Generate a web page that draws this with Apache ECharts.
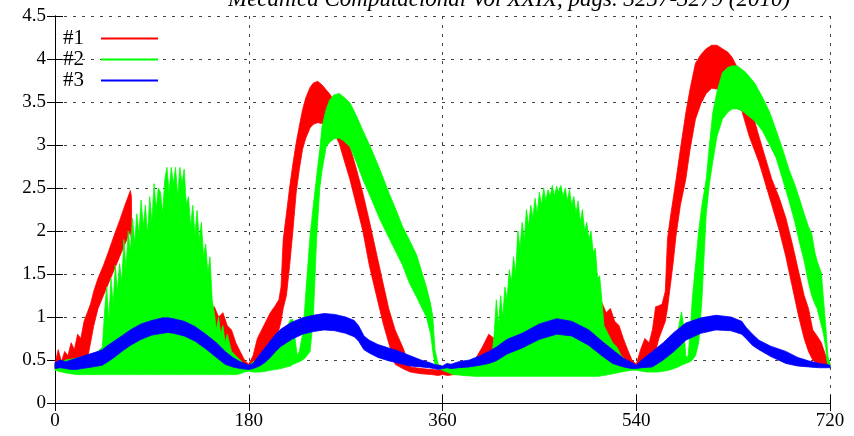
<!DOCTYPE html>
<html>
<head>
<meta charset="utf-8">
<script src="https://cdn.jsdelivr.net/npm/echarts@6/dist/echarts.min.js"></script>
<style>
html,body{margin:0;padding:0;background:#fff;}
#e_chart_1{width:854px;height:436px;}
</style>
</head>
<body>
<div id="e_chart_1"></div>
<script>
/*Crank angle chart*/

"use strict";

/*****Data start*****/
var titleText = 'Mecánica Computacional Vol XXIX, págs. 3257-3279 (2010)';
var seriesNames = ['#1', '#2', '#3'];
var seriesColors = ['#ff0000', '#00ff00', '#0000ff'];

// #1 : band (angle, lower edge, upper edge)
var redDeg = [0,3,6,9,12,15,18,21,24,27,30,33,36,40,45,50,55,60,65,70,71,72,80,100,120,135,140,145,148,152,156,160,164,168,172,176,
	180,184,188,192,196,200,204,208,210,212,215,218,221,224,227,230,233,237,240,244,248,252,256,260,264,268,274,280,286,292,299,305,310,316,323,330,340,350,356,
	360,365,370,380,390,397,403,408,420,460,490,500,505,508,512,516,520,524,528,532,536,
	540,544,548,552,555,558,561,564,567,569,571,574,577,581,586,590,595,600,605,610,615,620,625,629,638,645,654,666,673,679,685,691,696,700,704,708,712,716,720];
var redLow = [0.40,0.40,0.40,0.40,0.41,0.42,0.42,0.43,0.44,0.46,0.50,0.70,0.90,1.10,1.25,1.40,1.55,1.70,1.85,2.00,1.90,0.50,0.45,0.45,0.45,0.45,0.45,0.45,0.45,0.44,0.44,0.43,0.43,0.42,0.42,0.41,
	0.40,0.41,0.42,0.44,0.48,0.55,0.70,0.85,0.95,1.10,1.25,1.60,2.00,2.44,2.72,2.95,3.08,3.20,3.24,3.26,3.25,3.22,3.18,3.12,3.02,2.85,2.60,2.30,2.00,1.60,1.23,0.92,0.70,0.45,0.40,0.36,0.34,0.33,0.32,
	0.33,0.32,0.33,0.34,0.36,0.40,0.42,0.44,0.45,0.45,0.45,0.45,0.46,0.46,0.45,0.45,0.44,0.44,0.43,0.42,0.42,
	0.40,0.41,0.42,0.45,0.50,0.60,0.75,0.85,0.95,1.10,1.30,1.60,1.95,2.30,2.60,2.95,3.30,3.48,3.60,3.66,3.65,3.62,3.55,3.45,3.40,3.10,2.80,2.30,2.00,1.70,1.35,1.00,0.75,0.60,0.50,0.45,0.44,0.43,0.42];
var redHigh = [0.46,0.62,0.48,0.60,0.55,0.70,0.62,0.80,0.75,0.95,1.05,1.15,1.30,1.45,1.60,1.77,1.95,2.12,2.30,2.47,2.40,0.60,0.60,0.65,0.70,0.80,0.95,1.10,1.12,1.00,1.05,0.90,0.85,0.70,0.60,0.50,
	0.45,0.55,0.75,0.85,0.95,1.05,1.12,1.20,1.35,1.90,2.20,2.51,2.78,3.02,3.22,3.41,3.55,3.67,3.72,3.74,3.70,3.64,3.58,3.48,3.35,3.20,2.98,2.72,2.44,2.12,1.72,1.38,1.10,0.85,0.65,0.42,0.40,0.39,0.38,
	0.40,0.38,0.40,0.42,0.50,0.65,0.80,0.75,0.70,0.75,0.80,0.95,1.15,1.17,1.05,1.10,0.95,0.90,0.75,0.62,0.50,
	0.45,0.62,0.75,0.70,0.85,1.12,1.13,1.15,1.30,1.90,2.10,2.35,2.60,2.95,3.37,3.65,3.95,4.05,4.12,4.16,4.16,4.12,4.08,4.02,3.80,3.50,3.10,2.60,2.38,2.15,1.85,1.52,1.25,1.10,0.85,0.78,0.70,0.55,0.45];

// #2
var greenDeg = [0,10,20,30,40,44,46,48,50,52,54,56,58,60,62,64,66,68,70,72,74,76,78,80,82,84,86,88,90,92,94,96,98,100,
	102,104,106,108,110,112,114,116,118,120,122,124,126,128,130,132,134,136,138,140,142,144,146,148,150,152,154,156,158,160,164,168,172,176,
	180,184,190,196,200,205,210,215,219,221,223,225,227,230,232,234,237,240,243,246,248,252,255,259,264,268,274,280,286,294,302,311,317,323,329,336,345,349,351,353,356,
	360,370,380,390,400,406,408,410,412,414,416,418,420,422,424,426,428,430,432,434,436,438,440,442,444,446,448,450,452,454,456,458,460,
	462,464,466,468,470,472,474,476,478,480,482,484,486,488,490,492,494,496,498,500,502,504,506,508,510,514,518,522,526,530,535,
	540,545,550,555,560,565,570,575,579,582,584,586,588,590,592,595,598,601,603,605,608,611,615,620,625,629,634,638,642,650,657,664,670,676,682,687,691,696,700,703,706,708,712,714,716,717,718,720];
var greenLow = [0.38,0.35,0.33,0.33,0.33,0.33,0.33,0.33,0.33,0.33,0.33,0.33,0.33,0.33,0.33,0.33,0.33,0.33,0.33,0.33,0.33,0.33,0.33,0.33,0.33,0.33,0.33,0.33,0.33,0.33,0.33,0.33,0.33,0.33,
	0.33,0.33,0.33,0.33,0.33,0.33,0.33,0.33,0.33,0.33,0.33,0.33,0.33,0.33,0.33,0.33,0.33,0.33,0.33,0.33,0.33,0.33,0.33,0.33,0.33,0.33,0.33,0.33,0.33,0.33,0.33,0.33,0.34,0.36,
	0.37,0.36,0.36,0.37,0.38,0.39,0.40,0.42,0.43,0.45,0.46,0.47,0.48,0.50,0.52,0.55,0.60,1.00,1.90,2.50,2.70,2.98,3.03,3.07,3.08,3.05,2.98,2.80,2.60,2.37,2.13,1.90,1.75,1.60,1.40,1.23,1.00,0.80,0.60,0.45,0.40,
	0.38,0.33,0.32,0.31,0.31,0.31,0.31,0.31,0.31,0.31,0.31,0.31,0.31,0.31,0.31,0.31,0.31,0.31,0.31,0.31,0.31,0.31,0.31,0.31,0.31,0.31,0.31,0.31,0.31,0.31,0.31,0.31,0.31,
	0.31,0.31,0.31,0.31,0.31,0.31,0.31,0.31,0.31,0.31,0.31,0.31,0.31,0.31,0.31,0.31,0.31,0.31,0.31,0.31,0.31,0.31,0.31,0.32,0.32,0.33,0.34,0.35,0.36,0.37,0.38,
	0.38,0.37,0.36,0.36,0.36,0.37,0.38,0.40,0.42,0.44,0.45,0.46,0.47,0.48,0.50,0.55,0.70,1.20,1.70,2.20,2.55,2.80,3.10,3.30,3.38,3.42,3.42,3.40,3.36,3.28,3.17,3.00,2.85,2.60,2.35,2.12,1.90,1.65,1.40,1.25,1.15,1.10,0.90,0.80,0.65,0.50,0.45,0.42];
var greenHigh = [0.45,0.50,0.52,0.55,0.60,0.65,1.05,1.35,0.95,1.45,1.15,1.60,1.30,1.62,1.40,1.90,1.55,2.00,1.75,2.15,1.85,2.20,1.95,2.36,2.05,2.30,1.95,2.40,2.10,2.55,2.25,2.50,2.45,2.20,
	2.60,2.74,2.45,2.74,2.55,2.74,2.40,2.74,2.55,2.72,2.30,2.40,2.05,2.30,1.95,2.24,1.90,2.10,1.70,1.85,1.50,1.70,1.20,1.05,0.85,1.00,0.80,0.90,0.70,0.80,0.60,0.55,0.50,0.45,
	0.43,0.48,0.50,0.55,0.60,0.68,0.78,0.88,0.97,0.97,0.75,0.55,0.60,0.80,1.10,1.45,1.95,2.30,2.63,2.95,3.21,3.42,3.52,3.58,3.60,3.56,3.49,3.34,3.17,2.95,2.71,2.42,2.24,2.05,1.90,1.72,1.35,1.15,1.00,0.62,0.45,
	0.42,0.45,0.45,0.47,0.50,0.55,0.80,1.20,0.90,1.25,1.00,1.35,1.20,1.55,1.40,1.70,1.50,2.00,1.80,2.10,1.90,2.25,2.05,2.30,2.15,2.38,2.20,2.45,2.30,2.50,2.35,2.48,2.40,
	2.53,2.40,2.52,2.45,2.53,2.40,2.50,2.35,2.48,2.30,2.40,2.20,2.35,2.10,2.25,2.00,2.10,1.90,2.00,1.75,1.80,1.45,1.48,1.20,0.90,0.80,0.70,0.65,0.55,0.50,0.46,
	0.43,0.47,0.50,0.55,0.60,0.66,0.70,0.73,0.85,1.06,0.90,0.55,0.53,0.80,1.20,1.60,2.00,2.30,2.45,2.60,3.00,3.37,3.62,3.84,3.90,3.92,3.92,3.88,3.84,3.72,3.56,3.38,3.17,2.95,2.71,2.55,2.40,2.20,2.05,1.97,1.75,1.65,1.51,1.20,0.90,0.73,0.55,0.45];

// #3
var blueDeg = [0,5,10,15,20,25,30,35,40,44,48,55,62,70,80,90,100,105,110,120,130,140,150,158,165,172,
	180,184,190,195,200,205,210,220,230,240,250,260,270,278,282,287,292,300,310,320,330,340,348,352,356,
	360,364,368,375,385,395,403,410,420,434,450,466,480,496,508,518,528,536,
	540,545,555,565,575,586,600,614,628,638,642,648,654,665,679,690,700,710,720];
var blueLow = [0.40,0.41,0.40,0.39,0.39,0.40,0.41,0.42,0.43,0.44,0.47,0.53,0.60,0.67,0.74,0.79,0.81,0.82,0.81,0.78,0.72,0.63,0.53,0.45,0.42,0.40,
	0.39,0.40,0.43,0.47,0.53,0.60,0.66,0.74,0.80,0.83,0.85,0.84,0.81,0.77,0.72,0.62,0.58,0.53,0.49,0.46,0.43,0.42,0.41,0.40,0.39,
	0.40,0.41,0.40,0.41,0.42,0.44,0.46,0.49,0.57,0.64,0.74,0.80,0.78,0.67,0.55,0.46,0.42,0.40,
	0.40,0.41,0.42,0.50,0.60,0.73,0.81,0.85,0.84,0.80,0.75,0.67,0.62,0.54,0.46,0.43,0.42,0.41,0.41];
var blueHigh = [0.47,0.50,0.48,0.50,0.52,0.54,0.56,0.58,0.60,0.62,0.66,0.72,0.78,0.85,0.92,0.96,0.99,0.99,0.98,0.95,0.89,0.80,0.70,0.60,0.53,0.48,
	0.44,0.46,0.56,0.64,0.72,0.80,0.86,0.94,0.99,1.02,1.04,1.03,1.00,0.96,0.90,0.78,0.73,0.68,0.64,0.60,0.55,0.50,0.47,0.45,0.44,
	0.43,0.46,0.45,0.48,0.50,0.55,0.60,0.65,0.74,0.81,0.92,0.98,0.95,0.85,0.72,0.62,0.52,0.47,
	0.44,0.50,0.60,0.70,0.82,0.93,0.99,1.02,1.00,0.95,0.88,0.80,0.73,0.66,0.60,0.53,0.49,0.46,0.44];
/*****Data end*****/

/*****Band helper start*****/
// one closed polygon per series: upper edge left to right, lower edge back
var bandSeries = function(name, color, deg, low, high) {
	var rows = [];
	for (var i = 0; i < deg.length; i++) {
		rows.push([deg[i], low[i], high[i]]);
	}
	return {
		name: name,
		type: 'custom',
		silent: true,
		data: rows,
		encode: { x: 0, y: [1, 2] },
		itemStyle: { color: color },
		renderItem: function(params, api) {
			if (params.dataIndex !== 0) {
				return null;
			}
			var upper = [], lower = [];
			for (var j = 0; j < rows.length; j++) {
				upper.push(api.coord([rows[j][0], rows[j][2]]));
				lower.unshift(api.coord([rows[j][0], rows[j][1]]));
			}
			return {
				type: 'polygon',
				shape: { points: upper.concat(lower) },
				style: { fill: color, stroke: color, lineWidth: 0.8 }
			};
		}
	};
};
/*****Band helper end*****/

/*****E-Charts function start*****/
var echartsConfig = function() {
	var serifFont = "'Liberation Serif', 'Times New Roman', serif";
	var gridLine = { show: true, lineStyle: { color: '#444', width: 1, type: [3, 6] } };
	var frame = { show: true, lineStyle: { color: '#000', width: 1 } };
	var tick = { show: true, inside: true, length: 8, lineStyle: { color: '#000' } };
	var eChart_1 = echarts.init(document.getElementById('e_chart_1'));
	var option = {
		animation: false,
		backgroundColor: '#fff',
		title: {
			text: titleText,
			left: 228,
			top: -12,
			padding: 0,
			textStyle: {
				fontFamily: serifFont,
				fontStyle: 'italic',
				fontWeight: 'normal',
				fontSize: 23,
				color: '#000'
			}
		},
		legend: {
			data: seriesNames,
			orient: 'vertical',
			align: 'right',
			left: 63,
			top: 28,
			padding: 0,
			itemGap: 0,
			itemWidth: 57,
			itemHeight: 2,
			icon: 'rect',
			selectedMode: false,
			textStyle: {
				fontFamily: serifFont,
				fontSize: 21,
				color: '#000',
				lineHeight: 18,
				padding: [0, 12, 0, 0]
			}
		},
		grid: { left: 55, right: 24, top: 16, bottom: 33 },
		xAxis: [{
				type: 'value',
				position: 'bottom',
				min: 0,
				max: 720,
				interval: 180,
				axisLine: frame,
				axisTick: tick,
				splitLine: gridLine,
				axisLabel: { fontFamily: serifFont, fontSize: 19, color: '#000', margin: 9 }
			}, {
				type: 'value',
				position: 'top',
				min: 0,
				max: 720,
				interval: 180,
				axisLine: frame,
				axisTick: tick,
				splitLine: { show: false },
				axisLabel: { show: false }
			}],
		yAxis: [{
				type: 'value',
				position: 'left',
				min: 0,
				max: 4.5,
				interval: 0.5,
				axisLine: frame,
				axisTick: tick,
				splitLine: gridLine,
				axisLabel: { fontFamily: serifFont, fontSize: 19, color: '#000', margin: 9 }
			}, {
				type: 'value',
				position: 'right',
				min: 0,
				max: 4.5,
				interval: 0.5,
				axisLine: frame,
				axisTick: tick,
				splitLine: { show: false },
				axisLabel: { show: false }
			}],
		series: [
			bandSeries(seriesNames[0], seriesColors[0], redDeg, redLow, redHigh),
			bandSeries(seriesNames[1], seriesColors[1], greenDeg, greenLow, greenHigh),
			bandSeries(seriesNames[2], seriesColors[2], blueDeg, blueLow, blueHigh)
		]
	};
	eChart_1.setOption(option);
};
/*****E-Charts function end*****/

echartsConfig();
</script>
</body>
</html>
